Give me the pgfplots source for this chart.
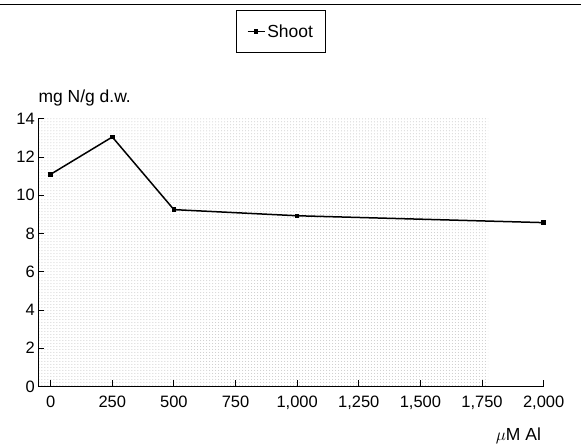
\documentclass[border=0pt]{standalone}
\usepackage{pgfplots}
\pgfplotsset{compat=1.18}
\usepackage{fontspec}
\setmainfont{Liberation Sans}
\usetikzlibrary{patterns}

\begin{document}
\begin{tikzpicture}
\begin{axis}[
    scale only axis,
    width=506pt, height=268pt,
    xmin=-50, xmax=2000,
    ymin=0, ymax=14,
    axis x line=bottom, axis y line=left,
    axis line style={-, line width=0.9pt},
    axis on top,
    clip=false,
    xtick={0,250,...,2000},
    ytick={0,2,...,14},
    tick align=inside,
    major tick length=6pt,
    tick style={line width=0.9pt, black},
    /pgf/number format/assume math mode=true,
    /pgf/number format/1000 sep={,},
    ticklabel style={font=\fontsize{16.5}{18}\selectfont},
    xticklabel style={yshift=-6pt},
    legend style={at={(axis description cs:0.48,1.3265)}, anchor=center,
        draw=black, line width=0.9pt, inner xsep=10pt, inner ysep=12pt,
        font=\fontsize{17.5}{19}\selectfont},
]

% halftone background of the scanned figure
\addplot[draw=none, pattern=dots, pattern color=black!22, forget plot]
    coordinates {(-50,14) (1775,14)} \closedcycle;

\addplot[color=black, line width=1.5pt, mark=square*, mark size=1.5pt,
    mark options={solid}]
    coordinates {
    (0,11.1)(250,13.05)(500,9.25)(1000,8.93)(2000,8.57)
    };
\addlegendentry{Shoot}

\node[anchor=south west, inner sep=0pt, font=\fontsize{17.5}{19}\selectfont]
    at (axis description cs:0,1.045) {mg N/g d.w.};
\node[anchor=north east, inner sep=0pt, font=\fontsize{17.5}{19}\selectfont]
    at (axis description cs:0.995,-0.155) {$\mu$M Al};

\draw[line width=0.8pt] (axis description cs:-0.0751,1.4272) -- (axis description cs:1.0731,1.4272);
\path (axis description cs:-0.0751,1.444) rectangle (axis description cs:1.0731,-0.2201);
\end{axis}
\end{tikzpicture}
\end{document}
